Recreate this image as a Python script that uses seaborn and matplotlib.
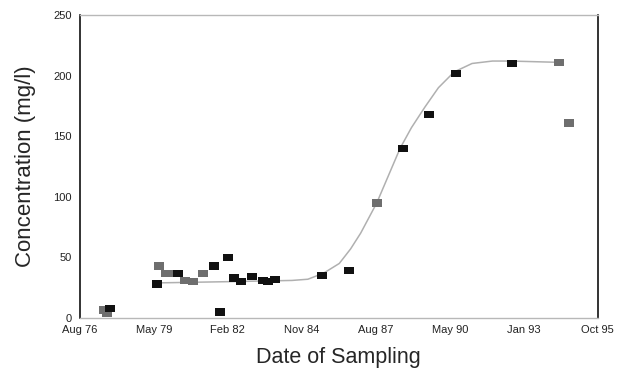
import pandas as pd
import seaborn as sns
import matplotlib.pyplot as plt
import matplotlib.dates as mdates

sns.set_style("white")
plt.rcParams["font.family"] = ["Liberation Sans", "DejaVu Sans"]

sample_dates = ["1977-07-15", "1977-08-25", "1977-10-04", "1979-07-02", "1979-07-29",
                "1979-10-31", "1980-01-20", "1980-04-10", "1980-07-14", "1980-10-30",
                "1981-03-14", "1981-08-10", "1981-10-30", "1982-02-15", "1982-05-07",
                "1982-08-10", "1983-01-05", "1983-06-03", "1983-08-10", "1983-11-12",
                "1985-08-08", "1986-08-08", "1987-08-21", "1988-08-05", "1989-07-22",
                "1990-07-22", "1992-08-18", "1994-05-14", "1994-09-26"]
conc = [6.5, 3.5, 8, 28, 43,
        37, 37, 37, 31, 30,
        37, 43, 5, 50, 33,
        30, 34, 31, 30, 32,
        35, 39, 95, 140, 168,
        202, 210, 211, 161]
shade = ["grey", "grey", "black", "black", "grey",
         "grey", "grey", "black", "grey", "grey",
         "grey", "black", "black", "black", "black",
         "black", "black", "black", "black", "black",
         "black", "black", "grey", "black", "black",
         "black", "black", "grey", "grey"]

# fitted trend curve
curve_dates = ["1979-08-01", "1982-03-01", "1984-07-01", "1985-02-01", "1985-09-01",
               "1986-04-01", "1986-09-01", "1987-01-15", "1987-08-21", "1988-01-15",
               "1988-07-01", "1988-12-01", "1989-06-01", "1989-12-01", "1990-07-01",
               "1991-03-01", "1991-12-01", "1992-08-01", "1994-04-01"]
curve_vals = [29, 30, 31, 32, 37,
              45, 57, 70, 95, 116,
              140, 157, 174, 190, 203,
              210, 212, 212, 211]

x_start = pd.Timestamp("1976-08-25")
tick_step = 1000  # days

pts = pd.DataFrame({"date": pd.to_datetime(sample_dates), "conc": conc, "shade": shade})
fit = pd.DataFrame({"date": pd.to_datetime(curve_dates), "conc": curve_vals})

fig = plt.figure(figsize=(6.24, 3.70), dpi=100)
ax = fig.add_axes([0.128, 0.1405, 0.83, 0.819])

sns.lineplot(data=fit, x="date", y="conc", color="#b0b0b0", lw=1.1, ax=ax)
# slightly wide rectangles like the original marks
rect = [(-1.35, -1), (1.35, -1), (1.35, 1), (-1.35, 1), (-1.35, -1)]
sns.scatterplot(data=pts, x="date", y="conc", hue="shade",
                palette={"grey": "#6e6e6e", "black": "#111111"},
                marker=rect, s=50, edgecolor="none", legend=False, ax=ax, zorder=3)

ticks = [x_start + pd.Timedelta(days=tick_step * i) for i in range(8)]
ax.set_xlim(ticks[0], ticks[-1])
ax.set_xticks(ticks)
ax.xaxis.set_major_formatter(mdates.DateFormatter("%b %y"))
ax.set_ylim(0, 250)
ax.set_yticks(range(0, 251, 50))

ax.tick_params(axis="x", direction="in", length=3, labelsize=8, pad=5, colors="#222222")
ax.tick_params(axis="y", direction="in", length=3, labelsize=8, pad=6, colors="#222222")
ax.set_xlabel("Date of Sampling", fontsize=15.5, labelpad=9)
ax.set_ylabel("Concentration (mg/l)", fontsize=16, labelpad=12)

for side in ["left", "right"]:
    ax.spines[side].set_color("#111111")
    ax.spines[side].set_linewidth(1.2)
for side in ["top", "bottom"]:
    ax.spines[side].set_color("#b8b8b8")
    ax.spines[side].set_linewidth(1.0)

fig.savefig("out.png", dpi=100)
